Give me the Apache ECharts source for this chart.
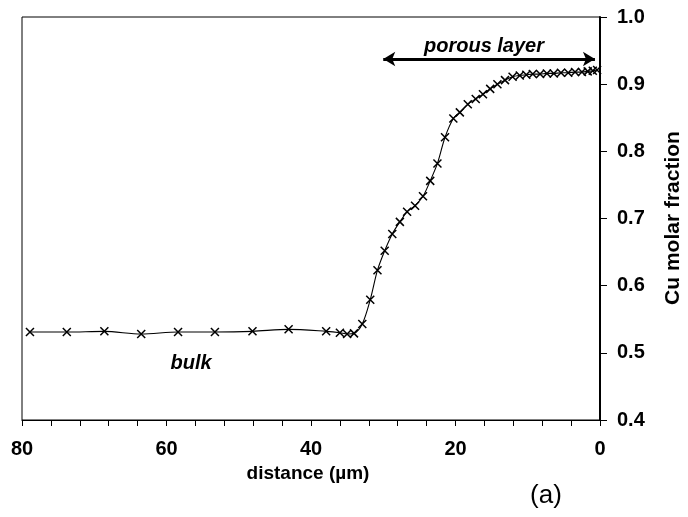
<!DOCTYPE html>
<html>
<head>
<meta charset="utf-8">
<script src="https://cdn.jsdelivr.net/npm/echarts@6/dist/echarts.min.js"></script>
<style>html,body{margin:0;padding:0;background:#fff;}#c{width:688px;height:517px;}</style>
</head>
<body>
<div id="c"></div>
<script>
// distance (µm) and Cu molar fraction
var distance = [78.9, 73.8, 68.6, 63.5, 58.4, 53.3, 48.1, 43.1, 37.9, 36.0, 35.0, 34.05,
  32.9, 31.8, 30.8, 29.8, 28.75, 27.7, 26.7, 25.6, 24.5, 23.5, 22.5, 21.45, 20.3, 19.4,
  18.3, 17.2, 16.2, 15.2, 14.2, 13.15, 12.1, 11.1, 10.2, 9.3, 8.3, 7.35, 6.4, 5.4, 4.4,
  3.45, 2.5, 1.7, 1.0, 0.4];
var cuFraction = [0.531, 0.531, 0.532, 0.528, 0.531, 0.531, 0.532, 0.535, 0.532, 0.530, 0.528, 0.529,
  0.543, 0.579, 0.623, 0.652, 0.677, 0.695, 0.710, 0.719, 0.733, 0.756, 0.782, 0.821, 0.849, 0.858,
  0.870, 0.878, 0.885, 0.893, 0.900, 0.906, 0.911, 0.913, 0.914, 0.915, 0.915, 0.916, 0.916, 0.917, 0.917,
  0.918, 0.918, 0.919, 0.920, 0.921];
var xTickLabels = [0, 20, 40, 60, 80];
var yTickLabels = [0.4, 0.5, 0.6, 0.7, 0.8, 0.9, 1.0];
var porousLayerRange = [30.0, 0.7];
var porousLayerLevel = 0.9375;

var points = distance.map(function (d, i) { return [d, cuFraction[i]]; });
var FONT = '"Liberation Sans", Arial, sans-serif';

var chart = echarts.init(document.getElementById('c'), null, {renderer: 'canvas'});
chart.setOption({
  animation: false,
  backgroundColor: '#fff',
  grid: {left: 22, right: 88, top: 17, bottom: 97, show: true, borderColor: '#000', borderWidth: 1, backgroundColor: 'transparent'},
  xAxis: {
    type: 'value', inverse: true, min: 0, max: 80, interval: 4,
    axisLine: {show: true, lineStyle: {color: '#000', width: 1.2}},
    axisTick: {show: true, inside: false, length: 6, lineStyle: {color: '#000', width: 1}},
    splitLine: {show: false},
    axisLabel: {
      margin: 19, color: '#000', fontFamily: FONT, fontWeight: 'bold', fontSize: 20,
      formatter: function (v) { return xTickLabels.indexOf(v) >= 0 ? String(v) : ''; }
    }
  },
  yAxis: {
    type: 'value', position: 'right', min: 0.4, max: 1.0, interval: 0.1,
    axisLine: {show: true, lineStyle: {color: '#000', width: 2}},
    axisTick: {show: true, inside: false, length: 7, lineStyle: {color: '#000', width: 1}},
    splitLine: {show: false},
    axisLabel: {
      margin: 17, color: '#000', fontFamily: FONT, fontWeight: 'bold', fontSize: 20,
      formatter: function (v) {
        var r = Math.round(v * 10) / 10;
        return yTickLabels.indexOf(r) >= 0 ? r.toFixed(1) : '';
      }
    }
  },
  series: [{
    type: 'line',
    data: points,
    smooth: 0.3,
    symbol: 'path://M0,0L10,10M10,0L0,10',
    symbolSize: 8,
    showAllSymbol: true,
    lineStyle: {color: '#000', width: 1.1},
    itemStyle: {color: 'transparent', borderColor: '#000', borderWidth: 1.5},
    markLine: {
      silent: true,
      symbol: ['arrow', 'arrow'],
      symbolSize: [11, 12],
      label: {show: false},
      lineStyle: {color: '#000', width: 3, type: 'solid'},
      itemStyle: {color: '#000'},
      data: [[{coord: [porousLayerRange[0], porousLayerLevel]}, {coord: [porousLayerRange[1], porousLayerLevel]}]]
    }
  }],
  graphic: [
    {type: 'text', x: 308, y: 474, style: {text: 'distance (µm)', font: 'bold 19px ' + FONT, fill: '#000', textAlign: 'center', textVerticalAlign: 'middle'}},
    {type: 'text', x: 673, y: 218, rotation: Math.PI / 2, style: {text: 'Cu molar fraction', font: 'bold 21px ' + FONT, fill: '#000', textAlign: 'center', textVerticalAlign: 'middle'}},
    {type: 'text', x: 546, y: 496, style: {text: '(a)', font: '26px ' + FONT, fill: '#000', textAlign: 'center', textVerticalAlign: 'middle'}},
    {type: 'text', x: 191, y: 363, style: {text: 'bulk', font: 'italic bold 20px ' + FONT, fill: '#000', textAlign: 'center', textVerticalAlign: 'middle'}},
    {type: 'text', x: 484, y: 46, style: {text: 'porous layer', font: 'italic bold 20px ' + FONT, fill: '#000', textAlign: 'center', textVerticalAlign: 'middle'}}
  ]
});
</script>
</body>
</html>
